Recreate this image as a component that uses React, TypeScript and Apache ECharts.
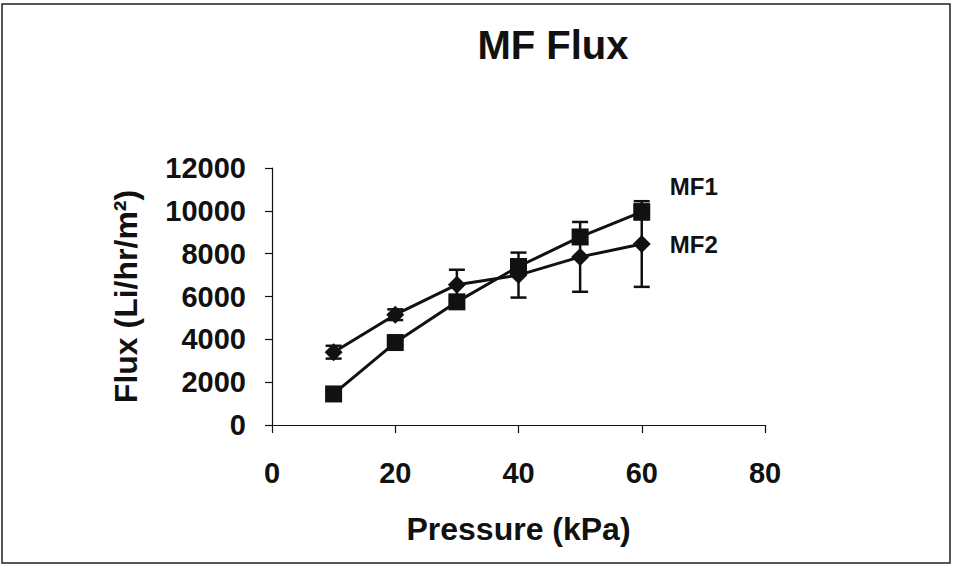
import React, { useEffect, useRef } from "react";
import * as echarts from "echarts";

const pressure = [10, 20, 30, 40, 50, 60];
const mf1 = [1450, 3850, 5750, 7400, 8780, 9950];
const mf1Err = [80, 120, 150, 300, 250, 350];
const mf2 = [3400, 5150, 6550, 7000, 7850, 8450];
const mf2Err = [300, 250, 700, 1050, 1630, 2000];

const FONT = "'Liberation Sans Narrow', 'Liberation Sans', Arial, sans-serif";

function errorSeries(vals: number[], errs: number[]) {
  return {
    type: "custom",
    z: 1,
    silent: true,
    data: pressure.map((p, i) => [p, vals[i] - errs[i], vals[i] + errs[i]]),
    renderItem: (params: any, api: any) => {
      const x = api.value(0);
      const lo = api.coord([x, api.value(1)]);
      const hi = api.coord([x, api.value(2)]);
      const cw = 8;
      const style = { stroke: "#111", lineWidth: 2.5 };
      return {
        type: "group",
        children: [
          { type: "line", shape: { x1: lo[0], y1: lo[1], x2: hi[0], y2: hi[1] }, style },
          { type: "line", shape: { x1: lo[0] - cw, y1: lo[1], x2: lo[0] + cw, y2: lo[1] }, style },
          { type: "line", shape: { x1: hi[0] - cw, y1: hi[1], x2: hi[0] + cw, y2: hi[1] }, style },
        ],
      };
    },
  };
}

export default function App() {
  const ref = useRef<HTMLDivElement>(null);
  useEffect(() => {
    const chart = echarts.init(ref.current!, null, { renderer: "svg" });
    chart.setOption({
      animation: false,
      backgroundColor: "#fff",
      title: {
        text: "MF Flux",
        left: 548,
        top: 20,
        textAlign: "center",
        textStyle: { fontFamily: FONT, fontWeight: "bold", fontSize: 40, color: "#111" },
      },
      graphic: [
        {
          type: "rect",
          shape: { x: 2, y: 4, width: 948, height: 559 },
          style: { fill: "none", stroke: "#222", lineWidth: 1.5 },
          silent: true,
        },
      ],
      grid: { left: 272, right: 192, top: 168, bottom: 141 },
      xAxis: {
        type: "value",
        min: 0,
        max: 80,
        interval: 20,
        name: "Pressure (kPa)",
        nameLocation: "middle",
        nameGap: 88,
        nameTextStyle: { fontFamily: FONT, fontWeight: "bold", fontSize: 32, color: "#111" },
        axisLine: { show: true, onZero: false, lineStyle: { color: "#111", width: 1.2 } },
        axisTick: { show: true, inside: false, length: 8, lineStyle: { color: "#111", width: 1.2 } },
        axisLabel: { margin: 33, fontFamily: FONT, fontWeight: "bold", fontSize: 29, color: "#111" },
        splitLine: { show: false },
      },
      yAxis: {
        type: "value",
        min: 0,
        max: 12000,
        interval: 2000,
        name: "Flux (Li/hr/m²)",
        nameLocation: "middle",
        nameGap: 130,
        nameRotate: 90,
        nameTextStyle: { fontFamily: FONT, fontWeight: "bold", fontSize: 32, color: "#111" },
        axisLine: { show: true, lineStyle: { color: "#111", width: 1.2 } },
        axisTick: { show: true, inside: false, length: 7, lineStyle: { color: "#111", width: 1.2 } },
        axisLabel: {
          margin: 26,
          formatter: (v: number) => String(v),
          fontFamily: FONT,
          fontWeight: "bold",
          fontSize: 29,
          color: "#111",
        },
        splitLine: { show: false },
      },
      series: [
        errorSeries(mf1, mf1Err),
        errorSeries(mf2, mf2Err),
        {
          name: "MF1",
          type: "line",
          z: 3,
          data: pressure.map((p, i) => [p, mf1[i]]),
          symbol: "rect",
          symbolSize: 17,
          lineStyle: { color: "#111", width: 3 },
          itemStyle: { color: "#111" },
          endLabel: {
            show: true,
            formatter: "MF1",
            offset: [20, -25],
            fontFamily: FONT,
            fontWeight: "bold",
            fontSize: 24,
            color: "#111",
          },
        },
        {
          name: "MF2",
          type: "line",
          z: 3,
          data: pressure.map((p, i) => [p, mf2[i]]),
          symbol: "diamond",
          symbolSize: 18,
          lineStyle: { color: "#111", width: 3 },
          itemStyle: { color: "#111" },
          endLabel: {
            show: true,
            formatter: "MF2",
            offset: [20, 0],
            fontFamily: FONT,
            fontWeight: "bold",
            fontSize: 24,
            color: "#111",
          },
        },
      ],
    });
    return () => chart.dispose();
  }, []);
  return <div ref={ref} style={{ width: 957, height: 566, position: "absolute", left: 0, top: 0 }} />;
}
